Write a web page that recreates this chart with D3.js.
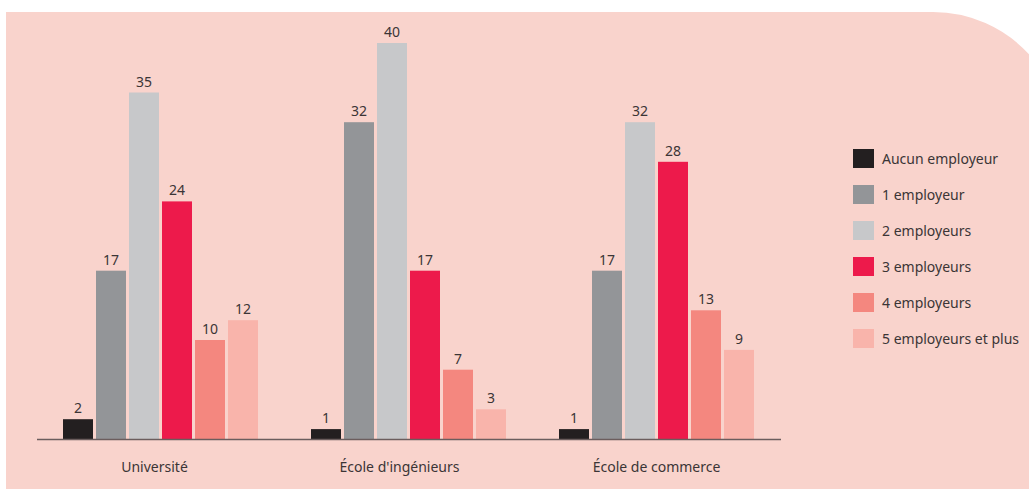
<!DOCTYPE html>
<html>
<head>
<meta charset="utf-8">
<script src="https://cdn.jsdelivr.net/npm/d3@7/dist/d3.min.js"></script>
<style>
  html, body { margin: 0; padding: 0; background: #ffffff; }
  svg { display: block; }
  text { font-family: "Noto Sans", "DejaVu Sans", sans-serif; fill: #3b3536; }
</style>
</head>
<body>
<svg id="chart" width="1029" height="490"></svg>
<script>
// Établissements d'origine
const categories = ["Université", "École d'ingénieurs", "École de commerce"];

// Nombre d'employeurs
const series = ["Aucun employeur", "1 employeur", "2 employeurs", "3 employeurs", "4 employeurs", "5 employeurs et plus"];

// Répartition (%) par série, dans l'ordre des catégories
const aucun = [2, 1, 1];
const un = [17, 32, 17];
const deux = [35, 40, 32];
const trois = [24, 17, 28];
const quatre = [10, 7, 13];
const cinqPlus = [12, 3, 9];

const seriesValues = [aucun, un, deux, trois, quatre, cinqPlus];
const colors = ["#231f20", "#939598", "#c7c8ca", "#ed1a4b", "#f4877f", "#f9b4ab"];

const svg = d3.select("#chart");

// Fond rose avec coin supérieur droit arrondi
const px0 = 6, py0 = 12, px1 = 1029, py1 = 489, r = 130;
const bgPath = d3.path();
bgPath.moveTo(px0, py0);
bgPath.lineTo(933, py0);
bgPath.arc(933, py0 + r, r, -Math.PI / 2, -Math.PI / 2 + Math.asin(96 / r));
bgPath.lineTo(px1, py1);
bgPath.lineTo(px0, py1);
bgPath.closePath();
svg.append("path").attr("d", bgPath.toString()).attr("fill", "#f9d3cc");

const baseY = 439;
const y = d3.scaleLinear().domain([0, 40]).range([baseY, 43]);

// Groupes espacés de 248 px
const x0 = d3.scaleBand()
  .domain(categories)
  .range([63, 63 + 248 * 3])
  .paddingInner(0)
  .paddingOuter(0);

// Barres de 30 px séparées de 3 px
const x1 = d3.scaleBand()
  .domain(series)
  .range([0, 33 * 6 - 3])
  .paddingInner(3 / 33)
  .paddingOuter(0);

const rows = [];
series.forEach((s, si) => {
  categories.forEach((c, ci) => {
    rows.push({ cat: c, serie: s, si, value: seriesValues[si][ci] });
  });
});

const g = svg.append("g");

g.selectAll("rect.bar")
  .data(rows)
  .join("rect")
  .attr("class", "bar")
  .attr("x", d => x0(d.cat) + x1(d.serie))
  .attr("y", d => y(d.value))
  .attr("width", x1.bandwidth())
  .attr("height", d => baseY - y(d.value))
  .attr("fill", d => colors[d.si]);

g.selectAll("text.val")
  .data(rows)
  .join("text")
  .attr("class", "val")
  .attr("x", d => x0(d.cat) + x1(d.serie) + x1.bandwidth() / 2)
  .attr("y", d => y(d.value) - 6)
  .attr("text-anchor", "middle")
  .attr("font-size", 14)
  .text(d => d.value);

// Ligne de base
svg.append("line")
  .attr("x1", 37).attr("x2", 781)
  .attr("y1", baseY + 0.5).attr("y2", baseY + 0.5)
  .attr("stroke", "#6b5d5d")
  .attr("stroke-width", 1.5);

// Libellés des catégories
const catOffset = [-6, -9, 0];
svg.selectAll("text.cat")
  .data(categories)
  .join("text")
  .attr("class", "cat")
  .attr("x", (d, i) => x0(d) + (33 * 6 - 3) / 2 + catOffset[i])
  .attr("y", 472)
  .attr("text-anchor", "middle")
  .attr("font-size", 14)
  .text(d => d);

// Légende
const legend = svg.append("g").attr("transform", "translate(853,149)");
const item = legend.selectAll("g")
  .data(series)
  .join("g")
  .attr("transform", (d, i) => `translate(0,${i * 36})`);
item.append("rect")
  .attr("width", 21).attr("height", 19)
  .attr("fill", (d, i) => colors[i]);
item.append("text")
  .attr("x", 29)
  .attr("y", 15)
  .attr("font-size", 14)
  .text(d => d);
</script>
</body>
</html>
